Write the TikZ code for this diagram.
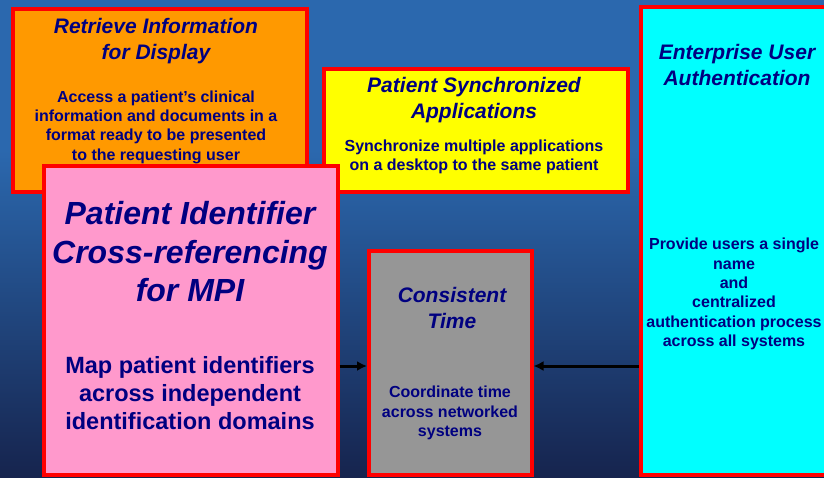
\documentclass[tikz,border=0pt]{standalone}
\usepackage{fontspec}
\setmainfont{Liberation Sans}
\usetikzlibrary{arrows.meta}

\definecolor{bgtop}{RGB}{43,104,174}
\definecolor{bgbot}{RGB}{22,36,78}
\definecolor{ihenavy}{RGB}{0,0,128}
\definecolor{iheorange}{RGB}{255,153,0}
\definecolor{iheyellow}{RGB}{255,255,0}
\definecolor{ihecyan}{RGB}{0,255,255}
\definecolor{ihepink}{RGB}{255,153,204}
\definecolor{ihegray}{RGB}{150,150,150}

\tikzset{
  profile/.style={draw=red,line width=3.5pt,anchor=north west,inner sep=0pt},
  ptitle/.style={text=ihenavy,align=center,inner sep=0pt,
    font=\fontsize{21}{26}\selectfont\bfseries\itshape},
  pbody/.style={text=ihenavy,align=center,inner sep=0pt,
    font=\fontsize{16}{19.4}\selectfont\bfseries},
  link/.style={line width=3pt,-{Latex[length=10pt,width=10pt]}}
}

\begin{document}
\begin{tikzpicture}[x=1pt,y=-1pt]
        %% Background
        \clip (0,0) rectangle (824,477);
        \fill[bgtop] (0,0) rectangle (824,150);
        \shade[top color=bgtop,bottom color=bgbot] (0,150) rectangle (824,477);
        %% Profiles
        \node[profile,fill=iheorange,minimum width=294pt,minimum height=183pt] (rid) at (11,7) {};
        \node[profile,fill=iheyellow,minimum width=304pt,minimum height=123pt] (psa) at (322,67) {};
        \node[profile,fill=ihecyan,minimum width=191pt,minimum height=468pt] (eua) at (639,5) {};
        \node[profile,fill=ihegray,minimum width=163pt,minimum height=224pt] (ct) at (367,249) {};
        \node[profile,fill=ihepink,minimum width=294pt,minimum height=309pt] (pix) at (42,164) {};
        %% Texts
        \node[ptitle] (ridtitle) at (156,41) {Retrieve Information\\for Display};
        \node[pbody] (ridbody) at (156,127) {Access a patient’s clinical\\information and documents in a\\format ready to be presented\\to the requesting user};
        \node[ptitle] (psatitle) at (474,100) {Patient Synchronized\\Applications};
        \node[pbody] (psabody) at (474,157) {Synchronize multiple applications\\on a desktop to the same patient};
        \node[ptitle] (euatitle) at (737,65) {Enterprise User\\Authentication};
        \node[pbody] (euabody) at (734,294) {Provide users a single\\name\\and\\centralized\\authentication process\\across all systems};
        \node[ptitle,font=\fontsize{32}{38.5}\selectfont\bfseries\itshape] (pixtitle) at (190,252) {Patient Identifier\\Cross-referencing\\for MPI};
        \node[pbody,font=\fontsize{23.5}{27.8}\selectfont\bfseries] (pixbody) at (190,393) {Map patient identifiers\\across independent\\identification domains};
        \node[ptitle] (cttitle) at (452,308) {Consistent\\Time};
        \node[pbody] (ctbody) at (450,413) {Coordinate time\\across networked\\systems};
        %% Links
        \coordinate (row) at (0,366);
        \draw[link] (pix.east |- row) -- (ct.west |- row);
        \draw[link] (eua.west |- row) -- (ct.east |- row);
    \end{tikzpicture}
\end{document}
